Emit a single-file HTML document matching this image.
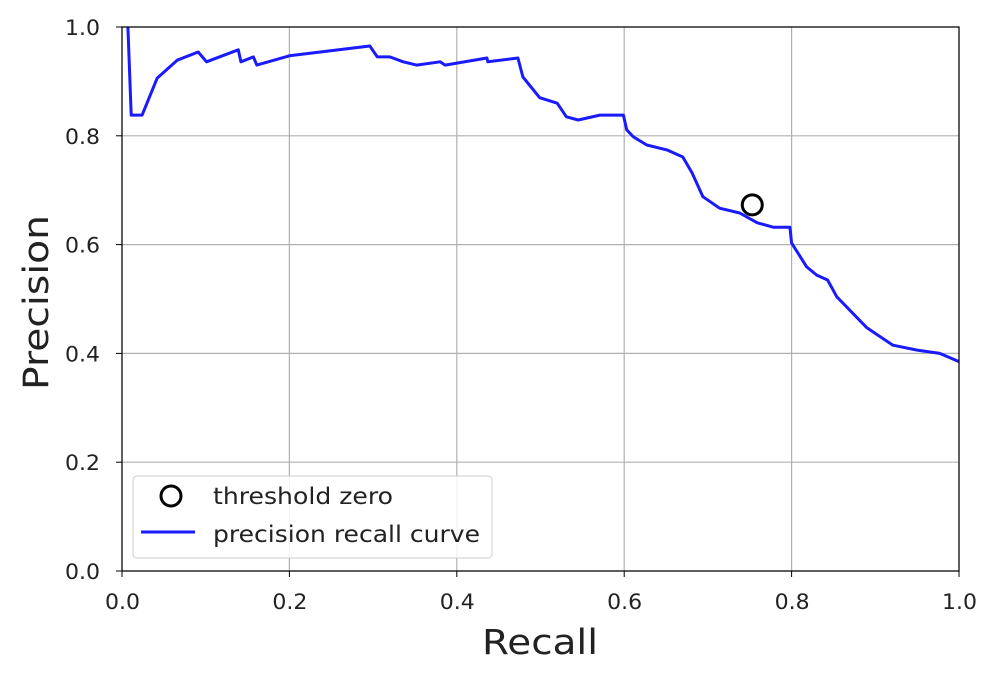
<!DOCTYPE html>
<html><head><meta charset="utf-8"><style>
body{margin:0;background:#fff;font-family:"Liberation Sans","DejaVu Sans",sans-serif}
svg text{font-family:"DejaVu Sans","Liberation Sans",sans-serif}
</style></head><body>
<svg id="chart" width="995" height="675" xmlns="http://www.w3.org/2000/svg">
<g id="grid"></g>
<g id="ticks"></g>
<path id="curve" fill="none" stroke="#1a1aff" stroke-width="3" stroke-linejoin="round"/>
<circle id="thr" r="10" fill="none" stroke="#000" stroke-width="3"/>
<rect x="122" y="27" width="837" height="544" fill="none" stroke="#000" stroke-width="1.2"/>
<text x="482" y="654" font-size="35" textLength="116" lengthAdjust="spacingAndGlyphs" fill="#222">Recall</text>
<text transform="translate(48,390) rotate(-90)" font-size="35" textLength="175" lengthAdjust="spacingAndGlyphs" fill="#222">Precision</text>
<g>
<rect x="133" y="476" width="359" height="82" rx="4" fill="#fff" fill-opacity="0.85" stroke="#ccc"/>
<circle cx="171" cy="496" r="10" fill="none" stroke="#000" stroke-width="3"/>
<text x="213" y="504" font-size="23" textLength="180" lengthAdjust="spacingAndGlyphs" fill="#222">threshold zero</text>
<line x1="141" y1="532" x2="195" y2="532" stroke="#1a1aff" stroke-width="3"/>
<text x="213" y="542" font-size="23" textLength="267" lengthAdjust="spacingAndGlyphs" fill="#222">precision recall curve</text>
</g>
</svg>
<script>
const recall=[0.007,0.011,0.024,0.042,0.066,0.091,0.101,0.139,0.142,0.157,0.161,0.2,0.296,0.305,0.32,0.336,0.352,0.38,0.386,0.436,0.437,0.473,0.479,0.499,0.52,0.531,0.545,0.571,0.599,0.603,0.611,0.627,0.651,0.67,0.681,0.694,0.714,0.738,0.759,0.778,0.798,0.80,0.818,0.83,0.843,0.854,0.89,0.921,0.95,0.977,1.0];
const precision=[1.0,0.838,0.838,0.906,0.939,0.954,0.936,0.958,0.936,0.945,0.930,0.947,0.965,0.945,0.945,0.936,0.930,0.936,0.930,0.943,0.936,0.943,0.908,0.87,0.86,0.835,0.829,0.838,0.838,0.811,0.798,0.783,0.774,0.761,0.732,0.688,0.667,0.658,0.64,0.632,0.632,0.603,0.559,0.544,0.535,0.504,0.447,0.415,0.406,0.4,0.385];
const thresholdPoint=[0.753,0.673];
const xTicks=["0.0","0.2","0.4","0.6","0.8","1.0"];
const yTicks=["0.0","0.2","0.4","0.6","0.8","1.0"];
const X=v=>122+v*837, Y=v=>571-v*544;
const ns="http://www.w3.org/2000/svg";
const grid=document.getElementById('grid'), ticks=document.getElementById('ticks');
function mk(t,a,p){const e=document.createElementNS(ns,t);for(const k in a)e.setAttribute(k,a[k]);p.appendChild(e);return e;}
xTicks.forEach(t=>{const x=X(+t);
const g=mk('line',{x1:x,x2:x,y1:27,y2:571,stroke:'#b0b0b0','stroke-width':1.2},grid);


mk('line',{x1:x,x2:x,y1:571,y2:577,stroke:'#000'},ticks);
const l=mk('text',{x:x-17,y:609,'font-size':21,textLength:35,lengthAdjust:'spacingAndGlyphs',fill:'#222'},ticks);l.textContent=t;

});
yTicks.forEach(t=>{const y=Y(+t);
const g=mk('line',{x1:122,x2:959,y1:y,y2:y,stroke:'#b0b0b0','stroke-width':1.2},grid);


mk('line',{x1:116,x2:122,y1:y,y2:y,stroke:'#000'},ticks);
const l=mk('text',{x:65,y:y+8,'font-size':21,textLength:35,lengthAdjust:'spacingAndGlyphs',fill:'#222'},ticks);l.textContent=t;

});
document.getElementById('curve').setAttribute('d',recall.map((r,i)=>(i?'L':'M')+X(r).toFixed(1)+','+Y(precision[i]).toFixed(1)).join(''));
const c=document.getElementById('thr');c.setAttribute('cx',X(thresholdPoint[0]));c.setAttribute('cy',Y(thresholdPoint[1]));
</script>
</body></html>
